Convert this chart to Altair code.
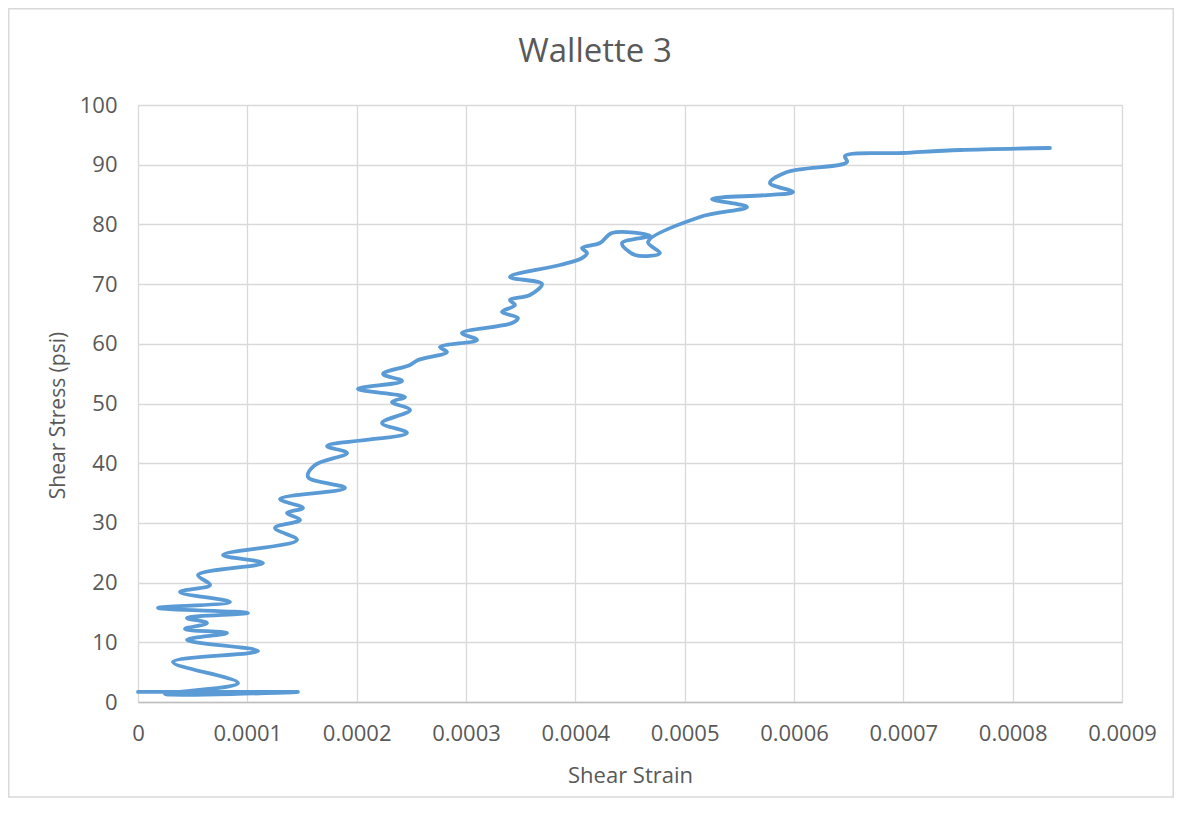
import altair as alt
import pandas as pd

# Shear strain / shear stress readings for Wallette 3 (in recorded order)
strain = [
    0.0, 0.0001463, 0.0000247, 0.0000915, 0.0000320, 0.0001098, 0.0000448, 0.0000814,
    0.0000430, 0.0000631, 0.0000448, 0.0001006, 0.0000183, 0.0000841, 0.0000384, 0.0000659,
    0.0000549, 0.0001143, 0.0000777, 0.0001454, 0.0001253, 0.0001482, 0.0001363, 0.0001509,
    0.0001299, 0.0001893, 0.0001555, 0.0001619, 0.0001912, 0.0001729, 0.0002460, 0.0002232,
    0.0002488, 0.0002323, 0.0002442, 0.0002012, 0.0002415, 0.0002241, 0.0002488, 0.0002561,
    0.0002826, 0.0002762, 0.0003101, 0.0002963, 0.0003421, 0.0003475, 0.0003329, 0.0003448,
    0.0003402, 0.0003585, 0.0003695, 0.0003402, 0.0003860, 0.0004061, 0.0004107, 0.0004061,
    0.0004225, 0.0004335, 0.0004683, 0.0004427, 0.0004546, 0.0004774, 0.0004664, 0.0005140,
    0.0005570, 0.0005250, 0.0005753, 0.0005991, 0.0005780, 0.0005936, 0.0006485, 0.0006466,
    0.0006997, 0.0007518, 0.0008341,
]
stress = [
    1.68, 1.68, 1.34, 3.18, 6.70, 8.54, 10.39, 11.56,
    12.23, 13.23, 14.07, 14.91, 15.75, 16.75, 18.43, 19.60,
    21.27, 23.28, 24.62, 27.14, 29.15, 30.49, 31.66, 32.50,
    34.00, 35.85, 37.69, 39.70, 41.71, 42.88, 45.06, 46.73,
    48.91, 50.25, 51.09, 52.43, 53.77, 54.94, 56.45, 57.29,
    58.63, 59.46, 60.64, 61.81, 63.48, 64.32, 65.33, 66.50,
    67.34, 68.17, 70.02, 71.19, 73.20, 74.37, 75.21, 76.05,
    76.88, 78.56, 78.06, 76.88, 74.87, 75.21, 77.05, 81.24,
    82.91, 84.25, 84.92, 85.43, 86.93, 88.78, 90.45, 91.46,
    91.96, 92.46, 92.80,
]
x_ticks = [0, 0.0001, 0.0002, 0.0003, 0.0004, 0.0005, 0.0006, 0.0007, 0.0008, 0.0009]
y_ticks = [0, 10, 20, 30, 40, 50, 60, 70, 80, 90, 100]
chart_title = ["Wallette 3"]

df = pd.DataFrame({"strain": strain, "stress": stress, "idx": list(range(len(strain)))})
title_df = pd.DataFrame({"t": chart_title})

FONT = "Open Sans"
TXT = "#595959"
GRID = "#d9d9d9"

W, H = 984, 597

line = alt.Chart(df).mark_line(
    color="#5b9bd5", strokeWidth=3.8, interpolate="catmull-rom",
    strokeCap="round", strokeJoin="round"
).encode(
    x=alt.X("strain:Q",
            scale=alt.Scale(domain=[0, 0.0009], nice=False, zero=False),
            axis=alt.Axis(values=x_ticks, title="Shear Strain",
                          labelExpr="datum.value == 0 ? '0' : format(datum.value, '.4f')",
                          labelFlush=False, labelOverlap=False,
                          grid=True, gridColor=GRID, gridWidth=1.3,
                          domain=True, domainColor="#bfbfbf", domainWidth=1.5,
                          ticks=False, labelPadding=21,
                          labelFont=FONT, labelFontSize=22, labelColor=TXT,
                          titleFont=FONT, titleFontSize=22, titleColor=TXT,
                          titleFontWeight="normal",
                          titleX=W / 2, titleY=80, titleBaseline="alphabetic",
                          titleAlign="center")),
    y=alt.Y("stress:Q",
            scale=alt.Scale(domain=[0, 100], nice=False),
            axis=alt.Axis(values=y_ticks, title="Shear Stress (psi)",
                          grid=True, gridColor=GRID, gridWidth=1.3,
                          domain=False, ticks=False, labelPadding=21,
                          labelFont=FONT, labelFontSize=22, labelColor=TXT,
                          titleFont=FONT, titleFontSize=21, titleColor=TXT,
                          titleFontWeight="normal",
                          titleX=-74, titleY=310, titleAngle=270,
                          titleBaseline="alphabetic", titleAlign="center")),
    order="idx:Q",
)

border = alt.Chart(title_df).mark_rect(
    fill=None, stroke=GRID, strokeWidth=1.5
).encode(
    x=alt.value(-129.25), x2=alt.value(W + 51.25),
    y=alt.value(-96.25), y2=alt.value(H + 95)
)

title = alt.Chart(title_df).mark_text(
    font=FONT, fontSize=33, color=TXT, align="center", baseline="alphabetic"
).encode(
    x=alt.value(457), y=alt.value(-43), text="t:N"
)

chart = alt.layer(border, line, title).properties(
    width=W, height=H,
    autosize=alt.AutoSizeParams(type="none"),
    padding={"left": 130, "top": 97, "right": 52, "bottom": 97},
).configure_view(stroke=None).configure(background="white")

chart.save("out.html", embed_options={"renderer": "svg", "actions": False})
